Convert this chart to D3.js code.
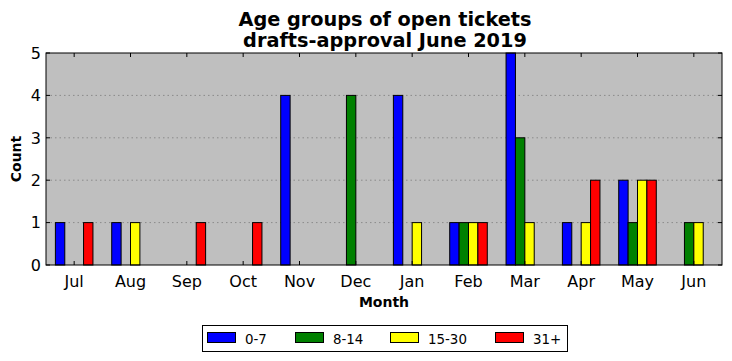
<!DOCTYPE html>
<html><head><meta charset="utf-8">
<script src="https://cdn.jsdelivr.net/npm/d3@7"></script>
<style>body{margin:0;background:#fff}svg{display:block;font-family:"DejaVu Sans",sans-serif}</style>
</head><body><svg id="c" width="732" height="361"></svg>
<script>
const months = ["Jul","Aug","Sep","Oct","Nov","Dec","Jan","Feb","Mar","Apr","May","Jun"];
const seriesNames = ["0-7","8-14","15-30","31+"];
const s0_7   = [1,1,0,0,4,0,4,1,5,1,2,0];
const s8_14  = [0,0,0,0,0,4,0,1,3,0,1,1];
const s15_30 = [0,1,0,0,0,0,1,1,1,1,2,1];
const s31p   = [1,0,1,1,0,0,0,1,0,2,2,0];
const yTicks = [0,1,2,3,4,5];
const colors = ["#0000ff","#008000","#ffff00","#ff0000"];
const series = [s0_7, s8_14, s15_30, s31p];

const svg = d3.select("#c");
const L = 46, R = 722, T = 53, B = 265;
const x = d3.scaleLinear().domain([-0.5, 11.5]).range([L, R]);
const y = d3.scaleLinear().domain([0, 5]).range([B, T]);
const bw = 1/6;

svg.append("rect").attr("x",L).attr("y",T).attr("width",R-L).attr("height",B-T).attr("fill","#bfbfbf");

// gridlines
svg.append("g").selectAll("line").data(yTicks.slice(1,-1)).join("line")
  .attr("x1",L).attr("x2",R).attr("y1",d=>y(d)).attr("y2",d=>y(d))
  .attr("stroke","#8a8a8a").attr("stroke-width",1).attr("stroke-dasharray","1.5,3");

// bars
series.forEach((s, k) => {
  svg.append("g").selectAll("rect").data(s).join("rect")
    .attr("x",(d,i)=>x(i + (k-2)*bw))
    .attr("width",x(bw)-x(0))
    .attr("y",d=>y(d))
    .attr("height",d=>y(0)-y(d))
    .attr("fill",colors[k]).attr("stroke","#000").attr("stroke-width",1);
});

// frame
svg.append("rect").attr("x",L).attr("y",T).attr("width",R-L).attr("height",B-T)
  .attr("fill","none").attr("stroke","#000").attr("stroke-width",1);

// ticks (inward on all sides)
const tl = 4;
const xg = svg.append("g");
months.forEach((m,i)=>{
  const px = x(i);
  xg.append("line").attr("x1",px).attr("x2",px).attr("y1",B).attr("y2",B-tl).attr("stroke","#000");
  xg.append("line").attr("x1",px).attr("x2",px).attr("y1",T).attr("y2",T+tl).attr("stroke","#000");
  xg.append("text").attr("x",px).attr("y",B+22).attr("text-anchor","middle").attr("font-size",16).text(m);
});
const yg = svg.append("g");
yTicks.forEach(v=>{
  const py = y(v);
  yg.append("line").attr("x1",L).attr("x2",L+tl).attr("y1",py).attr("y2",py).attr("stroke","#000");
  yg.append("line").attr("x1",R).attr("x2",R-tl).attr("y1",py).attr("y2",py).attr("stroke","#000");
  yg.append("text").attr("x",L-5).attr("y",py).attr("dy","0.36em").attr("text-anchor","end").attr("font-size",16).text(v);
});

// titles
svg.append("text").attr("x",385).attr("y",26).attr("text-anchor","middle")
  .attr("font-size",19.3).attr("font-weight","bold").text("Age groups of open tickets");
svg.append("text").attr("x",385).attr("y",47).attr("text-anchor","middle")
  .attr("font-size",19.3).attr("font-weight","bold").text("drafts-approval June 2019");
svg.append("text").attr("x",(L+R)/2).attr("y",307).attr("text-anchor","middle")
  .attr("font-size",14).attr("font-weight","bold").text("Month");
svg.append("text").attr("transform",`translate(21,${(T+B)/2}) rotate(-90)`).attr("text-anchor","middle")
  .attr("font-size",14).attr("font-weight","bold").text("Count");

// legend
const lg = svg.append("g");
lg.append("rect").attr("x",202.5).attr("y",325.5).attr("width",365).attr("height",26)
  .attr("fill","#fff").attr("stroke","#000");
const lx = [207, 295, 390, 495];
seriesNames.forEach((n,k)=>{
  lg.append("rect").attr("x",lx[k]+0.5).attr("y",332.5).attr("width",28).attr("height",10)
    .attr("fill",colors[k]).attr("stroke","#000");
  lg.append("text").attr("x",lx[k]+38).attr("y",343.5).attr("font-size",13.4).text(n);
});
</script></body></html>
